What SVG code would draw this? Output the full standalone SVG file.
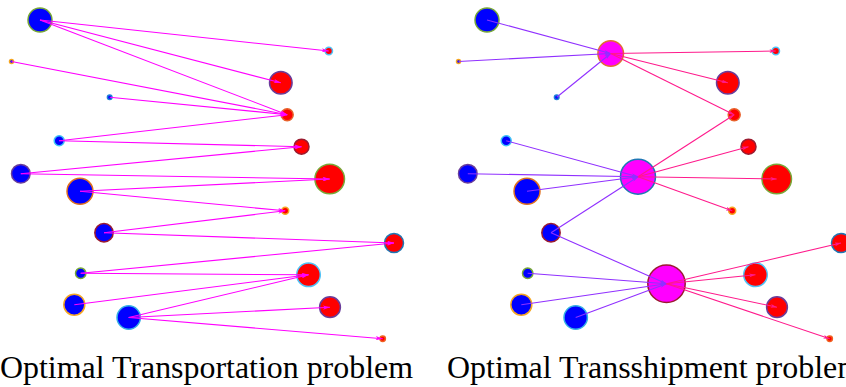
<svg xmlns="http://www.w3.org/2000/svg" width="846" height="387" viewBox="0 0 846 387">
<style>
.src{fill:#0000ff;stroke-width:1.5}
.snk{fill:#ff0000;stroke-width:1.5}
.hub{fill:#ff00ff;stroke-width:1.5}
.ot line{stroke:#ff00ff;stroke-width:1.1;marker-end:url(#am)}
.ts line.in{stroke:#9030ff;stroke-width:1.1;marker-end:url(#ap)}
.ts line.out{stroke:#ff1a8c;stroke-width:1.1;marker-end:url(#ak)}
.cap{font-family:"Liberation Serif",Tinos,"Noto Serif","DejaVu Serif",FreeSerif,Times,"Times New Roman",Georgia,serif;font-size:31.5px;fill:#000}
</style>
<defs>
<marker id="am" viewBox="0 0 10 6" refX="10" refY="3" markerWidth="8" markerHeight="4.2" markerUnits="userSpaceOnUse" orient="auto"><path d="M0,0 L10,3 L0,6 L2.5,3 z" fill="#ff00ff"/></marker>
<marker id="ap" viewBox="0 0 10 6" refX="10" refY="3" markerWidth="7" markerHeight="3.8" markerUnits="userSpaceOnUse" orient="auto"><path d="M0,0 L10,3 L0,6 L2.5,3 z" fill="#9030ff"/></marker>
<marker id="ak" viewBox="0 0 10 6" refX="10" refY="3" markerWidth="7" markerHeight="3.8" markerUnits="userSpaceOnUse" orient="auto"><path d="M0,0 L10,3 L0,6 L2.5,3 z" fill="#ff1a8c"/></marker>
</defs>

<!-- Left panel: Optimal Transportation -->
<g id="L-S1"><circle class="src" cx="40" cy="20" r="12" stroke="#78a838"/></g>
<g id="L-S2"><circle class="src" cx="11.5" cy="61.5" r="2" stroke="#f5a623"/></g>
<g id="L-S3"><circle class="src" cx="109.7" cy="97.2" r="2.3" stroke="#1e7fd8"/></g>
<g id="L-S4"><circle class="src" cx="59.2" cy="140.8" r="5" stroke="#40c4f5"/></g>
<g id="L-S5"><circle class="src" cx="20.8" cy="173.7" r="9.3" stroke="#6a3d9a"/></g>
<g id="L-S6"><circle class="src" cx="80" cy="191.3" r="13" stroke="#e07020"/></g>
<g id="L-S7"><circle class="src" cx="104" cy="232.7" r="9.2" stroke="#9b1b30"/></g>
<g id="L-S8"><circle class="src" cx="80.7" cy="273.3" r="5.2" stroke="#78a838"/></g>
<g id="L-S9"><circle class="src" cx="74.3" cy="304.7" r="10.5" stroke="#f5a623"/></g>
<g id="L-S10"><circle class="src" cx="128.7" cy="317.5" r="11.7" stroke="#35b0e5"/></g>
<g id="L-T1"><circle class="snk" cx="328.8" cy="51" r="3.7" stroke="#4fc3f7"/></g>
<g id="L-T2"><circle class="snk" cx="280.8" cy="82.8" r="11.3" stroke="#6a3d9a"/></g>
<g id="L-T3"><circle class="snk" cx="287.2" cy="114.7" r="6" stroke="#e8602a"/></g>
<g id="L-T4"><circle class="snk" cx="301.5" cy="146.7" r="7.5" stroke="#9b1b30"/></g>
<g id="L-T5"><circle class="snk" cx="329.7" cy="179" r="14.8" stroke="#78a838"/></g>
<g id="L-T6"><circle class="snk" cx="285.2" cy="210.8" r="3.5" stroke="#f5a623"/></g>
<g id="L-T7"><circle class="snk" cx="394" cy="243" r="9.5" stroke="#1f77b4"/></g>
<g id="L-T8"><circle class="snk" cx="308.5" cy="274.8" r="11.8" stroke="#4fc3f7"/></g>
<g id="L-T9"><circle class="snk" cx="330" cy="307.2" r="10.4" stroke="#6a3d9a"/></g>
<g id="L-T10"><circle class="snk" cx="382.7" cy="338.8" r="2.7" stroke="#f06020"/></g>

<!-- Right panel: Optimal Transshipment -->
<g id="R-S1"><circle class="src" cx="487" cy="20" r="12" stroke="#78a838"/></g>
<g id="R-S2"><circle class="src" cx="458.5" cy="61.5" r="2" stroke="#f5a623"/></g>
<g id="R-S3"><circle class="src" cx="556.7" cy="97.2" r="2.3" stroke="#1e7fd8"/></g>
<g id="R-S4"><circle class="src" cx="506.2" cy="140.8" r="5" stroke="#40c4f5"/></g>
<g id="R-S5"><circle class="src" cx="467.8" cy="173.7" r="9.3" stroke="#6a3d9a"/></g>
<g id="R-S6"><circle class="src" cx="527" cy="191.3" r="13" stroke="#e07020"/></g>
<g id="R-S7"><circle class="src" cx="551" cy="232.7" r="9.2" stroke="#9b1b30"/></g>
<g id="R-S8"><circle class="src" cx="527.7" cy="273.3" r="5.2" stroke="#78a838"/></g>
<g id="R-S9"><circle class="src" cx="521.3" cy="304.7" r="10.5" stroke="#f5a623"/></g>
<g id="R-S10"><circle class="src" cx="575.7" cy="317.5" r="11.7" stroke="#35b0e5"/></g>
<g id="R-H1"><circle class="hub" cx="610.7" cy="53.5" r="12.8" stroke="#e07030"/></g>
<g id="R-H2"><circle class="hub" cx="638" cy="176.7" r="17.5" stroke="#1f77b4"/></g>
<g id="R-H3"><circle class="hub" cx="666.5" cy="283.8" r="18.7" stroke="#9b1b30"/></g>
<g id="R-T1"><circle class="snk" cx="775.8" cy="51" r="3.7" stroke="#4fc3f7"/></g>
<g id="R-T2"><circle class="snk" cx="727.8" cy="82.8" r="11.3" stroke="#6a3d9a"/></g>
<g id="R-T3"><circle class="snk" cx="734.2" cy="114.7" r="6" stroke="#e8602a"/></g>
<g id="R-T4"><circle class="snk" cx="748.5" cy="146.7" r="7.5" stroke="#9b1b30"/></g>
<g id="R-T5"><circle class="snk" cx="776.7" cy="179" r="14.8" stroke="#78a838"/></g>
<g id="R-T6"><circle class="snk" cx="732.2" cy="210.8" r="3.5" stroke="#f5a623"/></g>
<g id="R-T7"><circle class="snk" cx="841" cy="243" r="9.5" stroke="#1f77b4"/></g>
<g id="R-T8"><circle class="snk" cx="755.5" cy="274.8" r="11.8" stroke="#4fc3f7"/></g>
<g id="R-T9"><circle class="snk" cx="777" cy="307.2" r="10.4" stroke="#6a3d9a"/></g>
<g id="R-T10"><circle class="snk" cx="829.7" cy="338.8" r="2.7" stroke="#f06020"/></g>

<g id="connectors">
<g class="ot">
<line x1="40" y1="20" x2="328.8" y2="51"/>
<line x1="40" y1="20" x2="280.8" y2="82.8"/>
<line x1="40" y1="20" x2="287.2" y2="114.7"/>
<line x1="11.5" y1="61.5" x2="287.2" y2="114.7"/>
<line x1="109.7" y1="97.2" x2="287.2" y2="114.7"/>
<line x1="59.2" y1="140.8" x2="287.2" y2="114.7"/>
<line x1="59.2" y1="140.8" x2="301.5" y2="146.7"/>
<line x1="20.8" y1="173.7" x2="301.5" y2="146.7"/>
<line x1="20.8" y1="173.7" x2="329.7" y2="179"/>
<line x1="80" y1="191.3" x2="329.7" y2="179"/>
<line x1="80" y1="191.3" x2="285.2" y2="210.8"/>
<line x1="104" y1="232.7" x2="285.2" y2="210.8"/>
<line x1="104" y1="232.7" x2="394" y2="243"/>
<line x1="80.7" y1="273.3" x2="394" y2="243"/>
<line x1="80.7" y1="273.3" x2="308.5" y2="274.8"/>
<line x1="74.3" y1="304.7" x2="308.5" y2="274.8"/>
<line x1="128.7" y1="317.5" x2="308.5" y2="274.8"/>
<line x1="128.7" y1="317.5" x2="330" y2="307.2"/>
<line x1="128.7" y1="317.5" x2="382.7" y2="338.8"/>
</g>
<g class="ts">
<line class="in" x1="487" y1="20" x2="610.7" y2="53.5"/>
<line class="in" x1="458.5" y1="61.5" x2="610.7" y2="53.5"/>
<line class="in" x1="556.7" y1="97.2" x2="610.7" y2="53.5"/>
<line class="out" x1="610.7" y1="53.5" x2="775.8" y2="51"/>
<line class="out" x1="610.7" y1="53.5" x2="727.8" y2="82.8"/>
<line class="out" x1="610.7" y1="53.5" x2="734.2" y2="114.7"/>
<line class="in" x1="506.2" y1="140.8" x2="638" y2="176.7"/>
<line class="in" x1="467.8" y1="173.7" x2="638" y2="176.7"/>
<line class="in" x1="527" y1="191.3" x2="638" y2="176.7"/>
<line class="in" x1="551" y1="232.7" x2="638" y2="176.7"/>
<line class="out" x1="638" y1="176.7" x2="734.2" y2="114.7"/>
<line class="out" x1="638" y1="176.7" x2="748.5" y2="146.7"/>
<line class="out" x1="638" y1="176.7" x2="776.7" y2="179"/>
<line class="out" x1="638" y1="176.7" x2="732.2" y2="210.8"/>
<line class="in" x1="551" y1="232.7" x2="666.5" y2="283.8"/>
<line class="in" x1="527.7" y1="273.3" x2="666.5" y2="283.8"/>
<line class="in" x1="521.3" y1="304.7" x2="666.5" y2="283.8"/>
<line class="in" x1="575.7" y1="317.5" x2="666.5" y2="283.8"/>
<line class="out" x1="666.5" y1="283.8" x2="841" y2="243"/>
<line class="out" x1="666.5" y1="283.8" x2="755.5" y2="274.8"/>
<line class="out" x1="666.5" y1="283.8" x2="777" y2="307.2"/>
<line class="out" x1="666.5" y1="283.8" x2="829.7" y2="338.8"/>
</g>
</g>

<text class="cap" x="0" y="378" textLength="413" lengthAdjust="spacingAndGlyphs">Optimal Transportation problem</text>
<text class="cap" x="447" y="378" textLength="415" lengthAdjust="spacingAndGlyphs">Optimal Transshipment problem</text>
</svg>
